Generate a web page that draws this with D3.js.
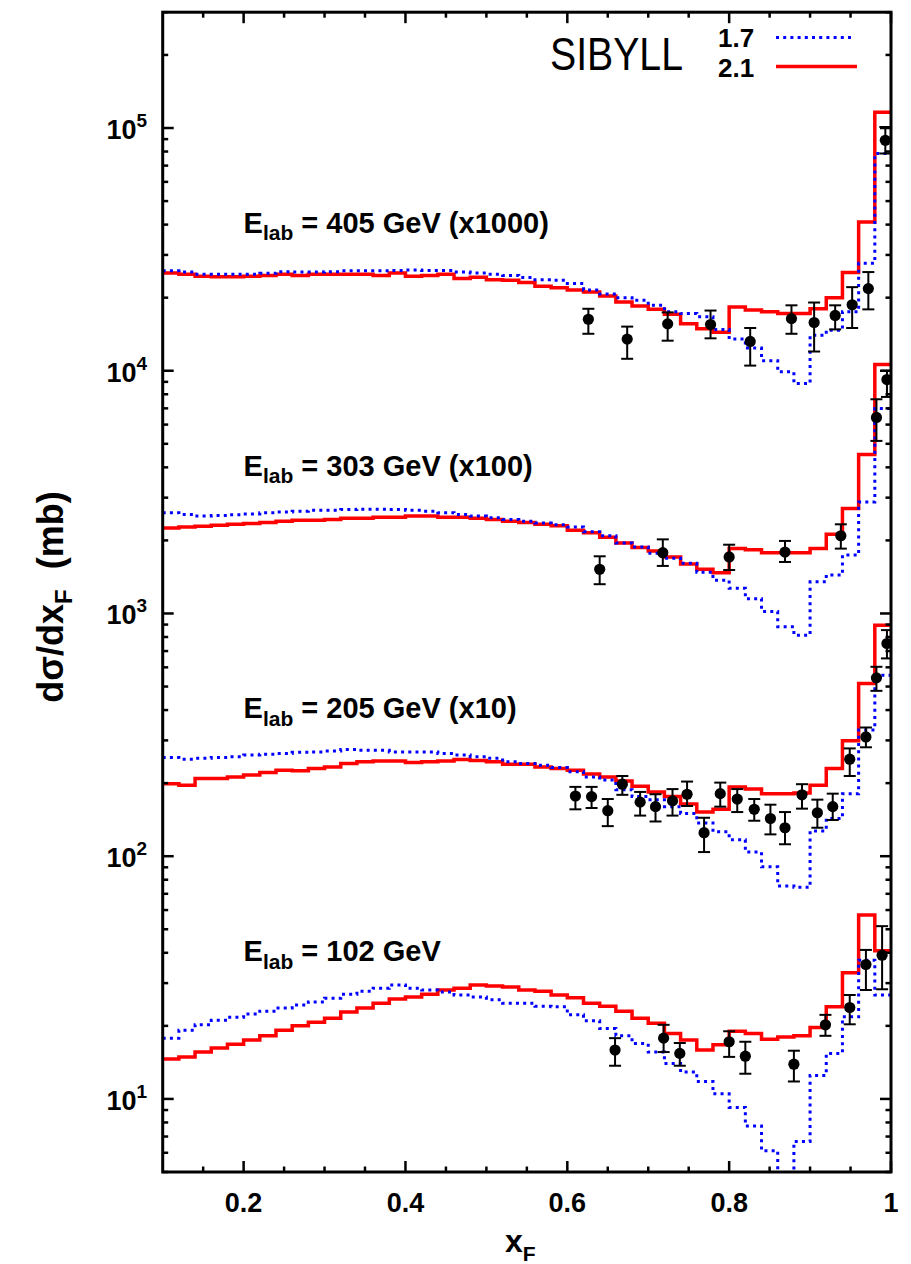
<!DOCTYPE html>
<html><head><meta charset="utf-8">
<script src="https://cdn.jsdelivr.net/npm/d3@7"></script>
<style>body{margin:0;background:#fff}svg{display:block}</style>
</head><body>
<script>
// ---------- data ----------
const binStart = 0.1, binWidth = 0.02, nBins = 45;
const xMajorTicks = [0.2, 0.4, 0.6, 0.8, 1.0];
const xTickLabels = ["0.2", "0.4", "0.6", "0.8", "1"];
const yDecades = [10, 100, 1000, 10000, 100000];
const yExponents = ["1", "2", "3", "4", "5"];

// SIBYLL 2.1 (red) and 1.7 (blue) histograms, bins of 0.02 from 0.10 to 1.00
const sib21_405 = [25300,25000,24500,24400,24400,24500,24700,25000,24700,25000,
  25000,25000,25000,24700,25300,24500,24700,25000,24000,24300,
  23700,23600,23100,22300,22000,21500,21100,20300,19200,18500,
  17900,17100,15600,14900,14400,18300,17800,17500,17200,17200,
  18000,20000,25400,41000,116000];
const sib17_405 = [25800,25500,25000,25000,25000,25000,25200,25600,25500,25500,
  25600,25800,25800,25800,25900,26000,25900,25900,25500,25300,
  25000,24700,24200,23700,23600,22900,21500,20700,20000,19500,
  18600,17500,17200,16700,14800,13500,12400,11000,9900,8850,
  14000,14700,17500,27700,78500];
const sib21_303 = [2250,2270,2290,2310,2330,2350,2370,2400,2420,2420,
  2440,2470,2470,2490,2490,2520,2520,2490,2490,2470,
  2440,2400,2370,2330,2300,2200,2150,2060,1950,1870,
  1810,1710,1600,1520,1470,1850,1830,1780,1780,1780,
  1850,2120,2710,4520,10600];
const sib17_303 = [2600,2560,2520,2530,2550,2570,2600,2620,2640,2660,
  2660,2680,2690,2690,2680,2660,2640,2600,2560,2520,
  2480,2440,2400,2360,2320,2270,2170,2090,1950,1880,
  1770,1690,1610,1480,1370,1270,1150,1020,881,814,
  1350,1440,1740,2880,6990];
const sib21_205 = [199,196,209,209,212,216,221,226,225,230,
  233,241,245,247,247,243,245,247,250,248,
  245,239,239,233,230,226,218,212,204,194,
  184,176,164,152,156,193,189,181,181,182,
  196,230,299,515,895];
const sib17_205 = [255,251,253,255,257,261,263,265,268,269,
  271,275,273,273,269,269,269,265,261,257,
  253,245,241,237,232,223,212,206,188,176,
  171,160,150,137,126,117,104,90.4,75.3,74.4,
  127,143,181,331,557];
const sib21_102 = [14.6,14.9,15.6,16.2,16.8,17.5,18.2,19.2,20.0,20.7,
  21.5,22.8,23.7,24.8,25.8,26.3,27.0,28.1,28.6,29.5,
  29.2,28.9,28.1,27.8,26.8,26.1,24.8,24.1,23.0,21.5,
  20.5,18.6,17.5,15.9,16.7,19.0,18.6,17.6,18.0,18.2,
  19.7,24.0,33.1,57.2,40.8];
const sib17_102 = [17.8,19.2,20.2,21.1,21.7,22.4,23.0,23.7,24.4,25.1,
  26.0,27.0,27.8,28.6,29.5,28.6,28.1,27.6,26.8,26.3,
  25.6,24.8,24.8,24.1,24.0,22.2,21.0,19.5,18.2,16.9,
  15.6,14.0,12.9,11.8,10.5,9.23,7.73,6.12,4.9,6.68,
  12.5,15.4,21.8,37.3,26.8];

// measurements: [xF, value, low, high]
const data405 = [[0.626,16300,14200,18000],[0.674,13500,11200,15200],[0.724,15600,13300,17400],
  [0.777,15500,13600,17700],[0.826,13200,10500,15000],[0.877,16400,14200,18600],
  [0.905,15800,12000,19100],[0.931,16900,14800,18600],[0.952,18700,15000,22100],
  [0.972,21800,17900,25500],[0.993,89000,78500,101000]];
const data303 = [[0.640,1520,1320,1720],[0.718,1780,1570,2020],[0.800,1710,1510,1920],
  [0.869,1790,1630,1990],[0.938,2090,1850,2330],[0.982,6420,5140,7630],[0.995,9200,7800,10000]];
const data205 = [[0.610,177,156,193],[0.630,176,158,193],[0.650,154,133,172],[0.668,198,179,214],
  [0.690,167,147,184],[0.709,160,139,180],[0.730,169,147,189],[0.748,180,161,203],
  [0.769,125,104,144],[0.789,181,160,201],[0.810,172,152,189],[0.831,156,140,172],
  [0.851,143,123,163],[0.869,131,112,152],[0.890,179,157,198],[0.909,151,131,171],
  [0.928,160,141,181],[0.949,251,214,278],[0.969,310,281,339],[0.982,543,480,603],[0.995,752,653,854]];
const data102 = [[0.659,15.9,13.7,17.8],[0.719,17.8,15.6,20.2],[0.739,15.4,13.7,17.0],
  [0.800,17.2,14.9,19.0],[0.820,15.0,12.7,17.2],[0.880,13.9,11.8,15.8],[0.919,20.2,18.2,22.2],
  [0.949,23.8,20.3,26.8],[0.969,35.8,28.1,41.1],[0.989,39.1,28.3,51.5]];

const panelEnergies = ["405", "303", "205", "102"];
const panelScales = [" (x1000)", " (x100)", " (x10)", ""];
const panelLabelAnchor = [[0.2, 3.7e4], [0.2, 3.7e3], [0.2, 370], [0.2, 37]];
const legendEntries = ["1.7", "2.1"];

// ---------- chart ----------
const W = 911, H = 1264;
const M = {left: 162.7, right: 891, top: 12.2, bottom: 1172};
const x = d3.scaleLinear().domain([0.1, 1.0]).range([M.left, M.right]);
const y = d3.scaleLog().domain([5, 3e5]).range([M.bottom, M.top]);
const RED = "#ff0000", BLUE = "#0000ff";
const FONT = "'Liberation Sans', Arial, Helvetica, sans-serif";

const svg = d3.select("body").append("svg").attr("width", W).attr("height", H)
  .style("font-family", FONT);
svg.append("rect").attr("width", W).attr("height", H).attr("fill", "#fff");
svg.append("defs").append("clipPath").attr("id", "clip").append("rect")
  .attr("x", M.left).attr("y", M.top).attr("width", M.right - M.left).attr("height", M.bottom - M.top);

const edges = d3.range(nBins + 1).map(i => +(binStart + i * binWidth).toFixed(2));
const histPts = vals => { const p = vals.map((v, i) => [edges[i], v]); p.push([edges[nBins], vals[nBins - 1]]); return p; };
const step = d3.line().x(d => x(d[0])).y(d => y(d[1])).curve(d3.curveStepAfter);

const plot = svg.append("g").attr("clip-path", "url(#clip)");
const reds = [sib21_405, sib21_303, sib21_205, sib21_102];
const blues = [sib17_405, sib17_303, sib17_205, sib17_102];
const datas = [data405, data303, data205, data102];

reds.forEach(v => plot.append("path").attr("d", step(histPts(v))).attr("fill", "none")
  .attr("stroke", RED).attr("stroke-width", 3.5).attr("stroke-linejoin", "miter"));
blues.forEach(v => plot.append("path").attr("d", step(histPts(v))).attr("fill", "none")
  .attr("stroke", BLUE).attr("stroke-width", 3).attr("stroke-dasharray", "3,4.2"));

datas.forEach(ds => {
  const g = plot.append("g");
  ds.forEach(d => {
    const cx = x(d[0]);
    g.append("line").attr("x1", cx).attr("x2", cx).attr("y1", y(d[2])).attr("y2", y(d[3]))
      .attr("stroke", "#000").attr("stroke-width", 2);
    [d[2], d[3]].forEach(e => g.append("line").attr("x1", cx - 6).attr("x2", cx + 6)
      .attr("y1", y(e)).attr("y2", y(e)).attr("stroke", "#000").attr("stroke-width", 2));
    g.append("circle").attr("cx", cx).attr("cy", y(d[1])).attr("r", 5.6).attr("fill", "#000");
  });
});

// ---------- axes ----------
const ax = svg.append("g").attr("stroke", "#000").attr("stroke-width", 2.5);
const xMinor = d3.range(0.15, 1.0, 0.05).map(v => +v.toFixed(2)).filter(v => !xMajorTicks.includes(v));
xMajorTicks.forEach(t => {
  ax.append("line").attr("x1", x(t)).attr("x2", x(t)).attr("y1", M.bottom).attr("y2", M.bottom - 11);
  ax.append("line").attr("x1", x(t)).attr("x2", x(t)).attr("y1", M.top).attr("y2", M.top + 11);
});
xMinor.forEach(t => {
  ax.append("line").attr("x1", x(t)).attr("x2", x(t)).attr("y1", M.bottom).attr("y2", M.bottom - 5.5);
  ax.append("line").attr("x1", x(t)).attr("x2", x(t)).attr("y1", M.top).attr("y2", M.top + 5.5);
});
const yMinor = [];
[1, 10, 100, 1000, 10000, 100000].forEach(d => d3.range(2, 10).forEach(m => {
  const v = d * m; if (v >= 5 && v <= 3e5 && !yDecades.includes(v)) yMinor.push(v);
}));
yDecades.forEach(t => {
  ax.append("line").attr("x1", M.left).attr("x2", M.left + 11).attr("y1", y(t)).attr("y2", y(t));
  ax.append("line").attr("x1", M.right).attr("x2", M.right - 11).attr("y1", y(t)).attr("y2", y(t));
});
yMinor.forEach(t => {
  ax.append("line").attr("x1", M.left).attr("x2", M.left + 5.5).attr("y1", y(t)).attr("y2", y(t));
  ax.append("line").attr("x1", M.right).attr("x2", M.right - 5.5).attr("y1", y(t)).attr("y2", y(t));
});
svg.append("rect").attr("x", M.left).attr("y", M.top).attr("width", M.right - M.left)
  .attr("height", M.bottom - M.top).attr("fill", "none").attr("stroke", "#000").attr("stroke-width", 3);

// tick labels
xMajorTicks.forEach((t, i) => svg.append("text").attr("x", x(t)).attr("y", 1212)
  .attr("text-anchor", "middle").attr("font-size", 27).attr("font-weight", "bold").text(xTickLabels[i]));
yDecades.forEach((t, i) => {
  const tx = svg.append("text").attr("x", 147).attr("y", y(t) + 11).attr("text-anchor", "end")
    .attr("font-weight", "bold").attr("font-size", 27);
  tx.append("tspan").text("10");
  tx.append("tspan").attr("dy", -12).attr("font-size", 19).text(yExponents[i]);
});

// axis titles
const xt = svg.append("text").attr("x", 505).attr("y", 1252).attr("font-weight", "bold").attr("font-size", 32);
xt.append("tspan").text("x");
xt.append("tspan").attr("dy", 9).attr("font-size", 21).text("F");

const yt = svg.append("text").attr("transform", "translate(63,597) rotate(-90)")
  .attr("text-anchor", "middle").attr("font-weight", "bold").attr("font-size", 36);
yt.append("tspan").text("d\u03C3/dx");
yt.append("tspan").attr("dy", 9).attr("font-size", 24).text("F");
yt.append("tspan").attr("dy", -9).attr("xml:space", "preserve").text("\u00A0\u00A0(mb)");

// panel labels
panelEnergies.forEach((e, i) => {
  const [ax0, ay0] = panelLabelAnchor[i];
  const t = svg.append("text").attr("x", x(ax0)).attr("y", y(ay0))
    .attr("font-weight", "bold").attr("font-size", 29);
  t.append("tspan").text("E");
  t.append("tspan").attr("dy", 7.5).attr("font-size", 21).text("lab");
  t.append("tspan").attr("dy", -7.5).text(" = " + e + " GeV" + panelScales[i]);
});

// legend
svg.append("text").attr("x", 550).attr("y", 70).attr("font-size", 46)
  .attr("textLength", 133).attr("lengthAdjust", "spacingAndGlyphs").text("SIBYLL");
svg.append("text").attr("x", 718).attr("y", 46.5).attr("font-size", 26).attr("font-weight", "bold").text(legendEntries[0]);
svg.append("text").attr("x", 718).attr("y", 76.5).attr("font-size", 26).attr("font-weight", "bold").text(legendEntries[1]);
svg.append("line").attr("x1", 776).attr("x2", 852).attr("y1", 37.5).attr("y2", 37.5)
  .attr("stroke", BLUE).attr("stroke-width", 3).attr("stroke-dasharray", "3,4.2");
svg.append("line").attr("x1", 776).attr("x2", 857).attr("y1", 66.5).attr("y2", 66.5)
  .attr("stroke", RED).attr("stroke-width", 3.5);
</script>
</body></html>
